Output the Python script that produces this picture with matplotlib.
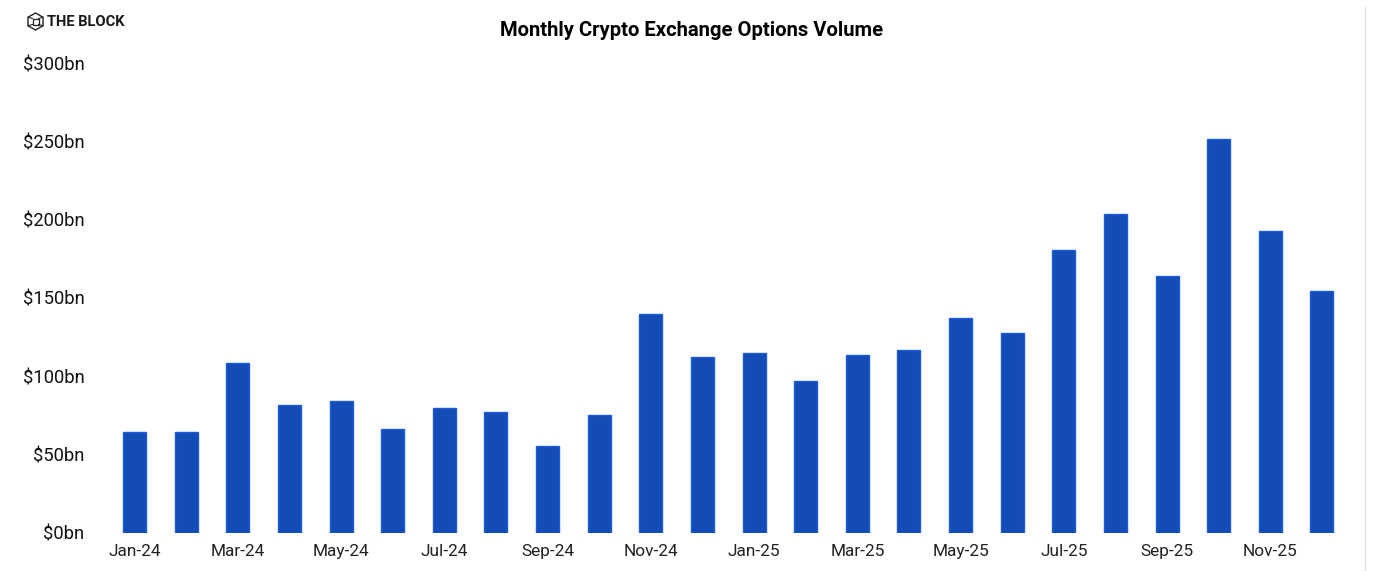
import matplotlib
matplotlib.use("Agg")
import matplotlib.pyplot as plt
from matplotlib.lines import Line2D
from matplotlib.patches import Polygon

plt.rcParams['font.family'] = ['Roboto', 'DejaVu Sans']

months = ["Jan-24","Feb-24","Mar-24","Apr-24","May-24","Jun-24","Jul-24","Aug-24","Sep-24","Oct-24","Nov-24","Dec-24",
          "Jan-25","Feb-25","Mar-25","Apr-25","May-25","Jun-25","Jul-25","Aug-25","Sep-25","Oct-25","Nov-25","Dec-25"]
volume = [64.3,64.6,108.4,81.5,84,66,79.5,77,55.3,75,139.8,112.3,
          114.8,97,113.5,116.7,137.2,127.6,180.7,203.7,164,251.7,192.8,154.5]
y_ticks = [0,50,100,150,200,250,300]

W, H = 1378, 571
fig = plt.figure(figsize=(W/100, H/100), dpi=100, facecolor='white')
ax = fig.add_axes([108.7/W, 1-532.5/H, (1347.8-108.7)/W, (532.5-63.5)/H])
x = list(range(len(months)))
ax.bar(x, volume, width=0.445, color='#134CB5', edgecolor='#1D5CDD', linewidth=1.0, zorder=3)
ax.set_xlim(-0.5, 23.5)
ax.set_ylim(0, 300)
ax.set_yticks(y_ticks)
ax.set_yticklabels([f"${v}bn" for v in y_ticks], fontsize=13.2, color='#111111')
ax.set_xticks(x[::2])
ax.set_xticklabels(months[::2], fontsize=12.4, color='#222222')
ax.tick_params(axis='both', length=0)
ax.tick_params(axis='y', pad=17.5)
ax.tick_params(axis='x', pad=8)
for s in ax.spines.values():
    s.set_visible(False)

fig.text(692/W, 1-31/H, "Monthly Crypto Exchange Options Volume", ha='center', va='center',
         fontsize=14.6, fontweight='bold', color='black')
fig.text(47/W, 1-21.5/H, "THE BLOCK", ha='left', va='center', fontsize=10.6, fontweight='bold', color='#1a1a1a')

# Right hairline
fig.add_artist(Line2D([1364.5/W, 1364.5/W], [0, 1-7/H], color='#e2e2e2', lw=1.0))

# Logo cube
cx, cy, rx, ry = 35.5, 21.5, 7.5, 8.5
hexpts = [(cx, cy-ry), (cx+rx, cy-ry/2), (cx+rx, cy+ry/2), (cx, cy+ry), (cx-rx, cy+ry/2), (cx-rx, cy-ry/2)]
fig.add_artist(Polygon([(a/W, 1-b/H) for a, b in hexpts], closed=True, fill=False,
                       edgecolor='#222222', lw=1.0, transform=fig.transFigure))
inner = [(cx-3, cy-3), (cx+3, cy-3), (cx+3, cy+3), (cx-3, cy+3)]
fig.add_artist(Polygon([(a/W, 1-b/H) for a, b in inner], closed=True, fill=False,
                       edgecolor='#222222', lw=0.9, transform=fig.transFigure))
for (a, b), (c, d) in zip(inner, [hexpts[5], hexpts[1], hexpts[2], hexpts[4]]):
    fig.add_artist(Line2D([a/W, c/W], [1-b/H, 1-d/H], color='#222222', lw=0.8))

fig.savefig("out.png", dpi=100, facecolor='white')
